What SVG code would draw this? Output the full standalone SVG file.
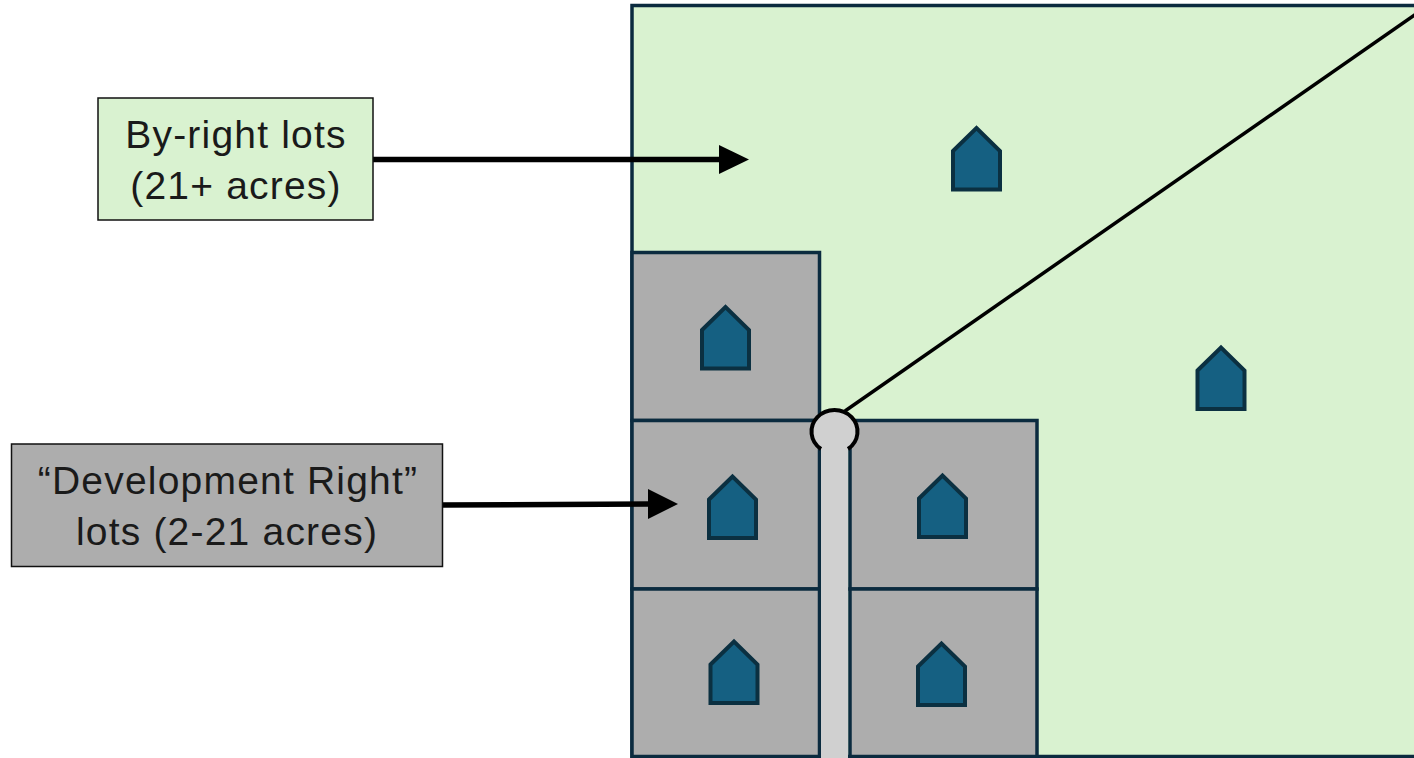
<svg xmlns="http://www.w3.org/2000/svg" width="1414" height="758" viewBox="0 0 1414 758">
<style>
.lot{fill:#adadad;stroke:#0b2b3f;stroke-width:3.500}
.house{fill:#156082;stroke:#0b3041;stroke-width:4;stroke-linejoin:miter}
.label{stroke:#111;stroke-width:1.500}
text{font-family:"Liberation Sans",Arial,sans-serif;font-size:39px;letter-spacing:1.200px;fill:#1a1a1a;text-anchor:middle}
.arrow{stroke:#000;stroke-width:5.500;fill:none}
</style>
<defs>
<path id="h" class="house" d="M2 25.500L25.500 2.500L49 25.500V64H2Z"/>
</defs>
<rect width="1414" height="758" fill="#fff"/>
<g id="parcel"><rect x="632" y="5.500" width="790" height="751" fill="#d9f2d0" stroke="#0b2b3f" stroke-width="3.500"/></g>
<g id="lot-a"><rect class="lot" x="632" y="252.500" width="187.500" height="168"/></g>
<g id="lot-b"><rect class="lot" x="632" y="420.500" width="187.500" height="168.500"/></g>
<g id="lot-c"><rect class="lot" x="632" y="589" width="187.500" height="167.500"/></g>
<g id="lot-d"><rect class="lot" x="850" y="420.500" width="187" height="168.500"/></g>
<g id="lot-e"><rect class="lot" x="850" y="589" width="187" height="167.500"/></g>
<g id="house-1"><use href="#h" x="951" y="125.500"/></g>
<g id="house-2"><use href="#h" x="700" y="304.500"/></g>
<g id="house-3"><use href="#h" x="1195.500" y="345"/></g>
<g id="house-4"><use href="#h" x="707" y="474"/></g>
<g id="house-5"><use href="#h" x="917" y="473"/></g>
<g id="house-6"><use href="#h" x="708.500" y="639"/></g>
<g id="house-7"><use href="#h" x="916" y="641"/></g>
<g id="connectors">
<line x1="845" y1="411" x2="1416" y2="14" stroke="#000" stroke-width="3.500"/>
<line class="arrow" x1="373" y1="159.500" x2="722" y2="159.500"/>
<path d="M719 145L749 159.500L719 174Z"/>
<line class="arrow" x1="442" y1="505" x2="650" y2="504"/>
<path d="M648 489L678 504L648 519Z"/>
</g>
<g id="road">
<path d="M821 758V449A23 21.500 0 1 1 848 449V758Z" fill="#d0d0d0"/>
<path d="M821 449A23 21.500 0 1 1 848 449" fill="none" stroke="#000" stroke-width="4"/>
</g>
<g id="label-byright">
<rect class="label" x="98" y="98" width="275" height="122" fill="#d9f2d0"/>
<text x="236" y="148">By-right lots</text>
<text x="236" y="199">(21+ acres)</text>
</g>
<g id="label-devright">
<rect class="label" x="11.500" y="444" width="431" height="122.500" fill="#adadad"/>
<text x="228" y="494">“Development Right”</text>
<text x="227" y="545">lots (2-21 acres)</text>
</g>
</svg>
